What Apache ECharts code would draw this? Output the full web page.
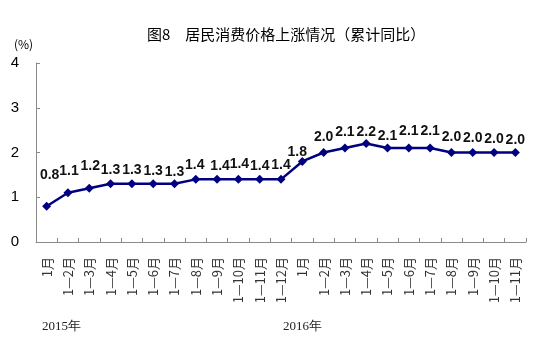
<!DOCTYPE html>
<html>
<head>
<meta charset="utf-8">
<script src="https://cdn.jsdelivr.net/npm/echarts@6/dist/echarts.min.js"></script>
<style>html,body{margin:0;padding:0;background:#fff;}#c{width:548px;height:355px;}</style>
</head>
<body>
<div id="c"></div>
<script>
var categories = ["1月","1—2月","1—3月","1—4月","1—5月","1—6月","1—7月","1—8月","1—9月","1—10月","1—11月","1—12月",
                  "1月","1—2月","1—3月","1—4月","1—5月","1—6月","1—7月","1—8月","1—9月","1—10月","1—11月"];
var cpiValues = [0.8,1.1,1.2,1.3,1.3,1.3,1.3,1.4,1.4,1.4,1.4,1.4,
                 1.8,2.0,2.1,2.2,2.1,2.1,2.1,2.0,2.0,2.0,2.0];
var yTicks = [0,1,2,3,4];
var yearLabels = ["2015年","2016年"];
var titleText = "图8　居民消费价格上涨情况（累计同比）";
var unitText = "(%)";

// label fine-tuning (style only)
var labelDx = [3,1,1,0,0,0,0,-1,3,1,0,0,-5,0,0,0,0,0,0,0,0,0,0];
var labelDy = [-18,-8,-9,0,0,1,2,-1,0,-2,0,-1,4,-2,-2,2,2,-3,-3,-2,-1,0,1];

var chart = echarts.init(document.getElementById('c'));
var seriesData = cpiValues.map(function(v,i){
  return {value: v, label: {offset: [labelDx[i], labelDy[i]]}};
});
chart.setOption({
  animation: false,
  backgroundColor: '#fff',
  title: {
    text: titleText, left: 142, top: 22,
    textStyle: {fontFamily: 'Noto Sans CJK SC', fontSize: 15, fontWeight: 'normal', color: '#000'}
  },
  grid: {left: 36, right: 22, top: 63, bottom: 113, containLabel: false},
  xAxis: {
    type: 'category', data: categories, boundaryGap: true,
    axisLine: {lineStyle: {color: '#8a8a8a', width: 1}},
    axisTick: {show: true, inside: true, length: 4, interval: 0, lineStyle: {color: '#8a8a8a'}},
    axisLabel: {interval: 0, rotate: 90, margin: 15, fontSize: 13, color: '#333', fontFamily: 'Noto Sans CJK SC'},
    splitLine: {show: false}
  },
  yAxis: {
    type: 'value', min: yTicks[0], max: yTicks[yTicks.length-1], interval: 1,
    axisLine: {show: true, lineStyle: {color: '#8a8a8a', width: 1}},
    axisTick: {show: true, inside: true, length: 4, lineStyle: {color: '#8a8a8a'}},
    axisLabel: {fontSize: 15, color: '#000', margin: 17, fontFamily: 'Liberation Sans'},
    splitLine: {show: false}
  },
  graphic: [
    {type: 'text', left: 14, top: 38, style: {text: unitText, fontSize: 12, fill: '#000', fontFamily: 'Noto Sans CJK SC'}},
    {type: 'text', left: 42, top: 320, style: {text: yearLabels[0], fontSize: 13, fill: '#222', fontFamily: 'Liberation Serif'}},
    {type: 'text', left: 283, top: 320, style: {text: yearLabels[1], fontSize: 13, fill: '#222', fontFamily: 'Liberation Serif'}}
  ],
  series: [{
    type: 'line', data: seriesData,
    symbol: 'diamond', symbolSize: 9,
    lineStyle: {color: '#000080', width: 2.5},
    itemStyle: {color: '#000080'},
    label: {show: true, position: 'top', distance: 2, fontSize: 14, fontWeight: 'bold',
            color: '#111', fontFamily: 'Liberation Sans',
            formatter: function(p){ return Number(p.value).toFixed(1); }}
  }]
});
</script>
</body>
</html>
